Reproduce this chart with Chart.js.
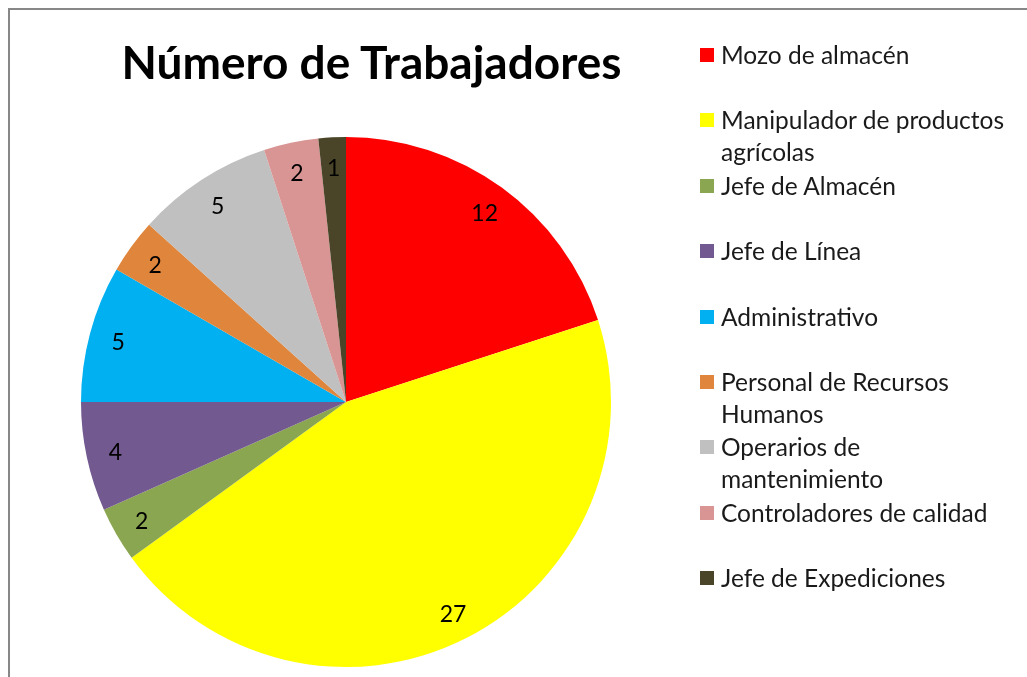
<!DOCTYPE html>
<html>
<head>
<meta charset="utf-8">
<script src="https://cdn.jsdelivr.net/npm/chart.js@4/dist/chart.umd.min.js"></script>
<style>
    body { margin: 0; background: #fff; }
    #marco {
        position: absolute; left: 8px; top: 8px; width: 1100px; height: 800px;
        border-left: 2px solid #878787; border-top: 2px solid #878787;
    }
    #titulo {
        position: absolute; left: 0; width: 743px; top: 33px; text-align: center;
        font: bold 46px Lato, sans-serif; color: #000; line-height: 58px;
    }
    #grafic { position: absolute; left: 0; top: 0; }
    #llegenda {
        position: absolute; left: 700px; top: 39px; width: 318px;
        font: 24.5px Lato, sans-serif; color: #1a1a1a;
    }
    .item { position: relative; height: 65.4px; line-height: 32px; padding-left: 21px; }
    .quadre { position: absolute; left: 0; top: 9px; width: 14px; height: 14px; }
</style>
</head>
<body>
<div id="marco"></div>
<canvas id="grafic" width="692" height="677"></canvas>
<div id="titulo">Número de Trabajadores</div>
<div id="llegenda"></div>
<script>
const categories = ["Mozo de almacén", "Manipulador de productos agrícolas", "Jefe de Almacén", "Jefe de Línea", "Administrativo", "Personal de Recursos Humanos", "Operarios de mantenimiento", "Controladores de calidad", "Jefe de Expediciones"];
const trabajadores = [12, 27, 2, 4, 5, 2, 5, 2, 1];
const colors = ["#FF0000", "#FFFF00", "#8BA650", "#725990", "#00B0F0", "#E0863C", "#C0C0C0", "#D99594", "#4A4528"];

// etiquetes dins de cada porció
const etiquetesPlugin = {
    id: 'etiquetes',
    afterDatasetsDraw(chart) {
        const ctx = chart.ctx;
        const arcs = chart.getDatasetMeta(0).data;
        ctx.save();
        ctx.font = '23px Lato, sans-serif';
        ctx.fillStyle = '#000';
        ctx.textAlign = 'center';
        ctx.textBaseline = 'middle';
        arcs.forEach((arc, i) => {
            const mig = (arc.startAngle + arc.endAngle) / 2;
            const r = arc.outerRadius * 0.89;
            ctx.fillText(trabajadores[i], arc.x + Math.cos(mig) * r, arc.y + Math.sin(mig) * r + 2);
        });
        ctx.restore();
    }
};

const ctx = document.getElementById('grafic');
const myChart = new Chart(ctx, {
    type: 'pie',
    data: {
        labels: categories,
        datasets: [{
            data: trabajadores,
            backgroundColor: colors,
            borderWidth: 0
        }]
    },
    options: {
        responsive: false,
        animation: false,
        layout: { padding: { top: 137, bottom: 10 } },
        plugins: {
            legend: { display: false },
            tooltip: { enabled: false }
        }
    },
    plugins: [etiquetesPlugin]
});

// llegenda
let html = '';
for (let i = 0; i < categories.length; i++) {
    html += `<div class="item"><span class="quadre" style="background:${ colors[i] }"></span>${ categories[i] }</div>`;
}
document.getElementById('llegenda').innerHTML = html;
</script>
</body>
</html>
